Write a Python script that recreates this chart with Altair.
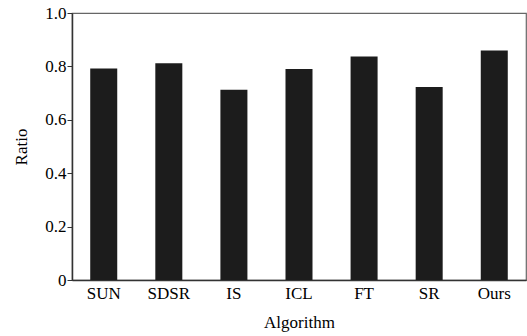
import altair as alt
import pandas as pd

algorithms = ["SUN", "SDSR", "IS", "ICL", "FT", "SR", "Ours"]
ratios = [0.792, 0.812, 0.713, 0.790, 0.837, 0.723, 0.860]

df = pd.DataFrame({"Algorithm": algorithms, "Ratio": ratios})

font = "Liberation Serif"

chart = alt.Chart(df).mark_bar(color="#1c1c1c").encode(
    x=alt.X("Algorithm:N", sort=algorithms,
            scale=alt.Scale(paddingInner=0.585, paddingOuter=0.28),
            axis=alt.Axis(title="Algorithm", labelAngle=0, ticks=False, tickSize=0,
                          labelPadding=5, titlePadding=13,
                          labelFont=font, labelFontSize=17, labelColor="black",
                          titleFont=font, titleFontSize=17, titleFontWeight="normal",
                          titleColor="black", domainColor="#333", domainWidth=1.5)),
    y=alt.Y("Ratio:Q", scale=alt.Scale(domain=[0, 1.0]),
            axis=alt.Axis(title="Ratio", values=[0, 0.2, 0.4, 0.6, 0.8, 1.0],
                          labelExpr="datum.value == 0 ? '0' : format(datum.value, '.1f')",
                          grid=False, tickSize=5, tickColor="#333", labelPadding=1,
                          titlePadding=14,
                          labelFont=font, labelFontSize=17, labelColor="black",
                          titleFont=font, titleFontSize=17, titleFontWeight="normal",
                          titleColor="black", domainColor="#333", domainWidth=1.5)),
).properties(
    width=454, height=267,
    autosize=alt.AutoSizeParams(type="none"),
    padding={"left": 72, "top": 13, "right": 1, "bottom": 56},
).configure_view(stroke="#666", strokeWidth=1.2)

chart.save("out.html", embed_options={"renderer": "svg", "actions": False})
